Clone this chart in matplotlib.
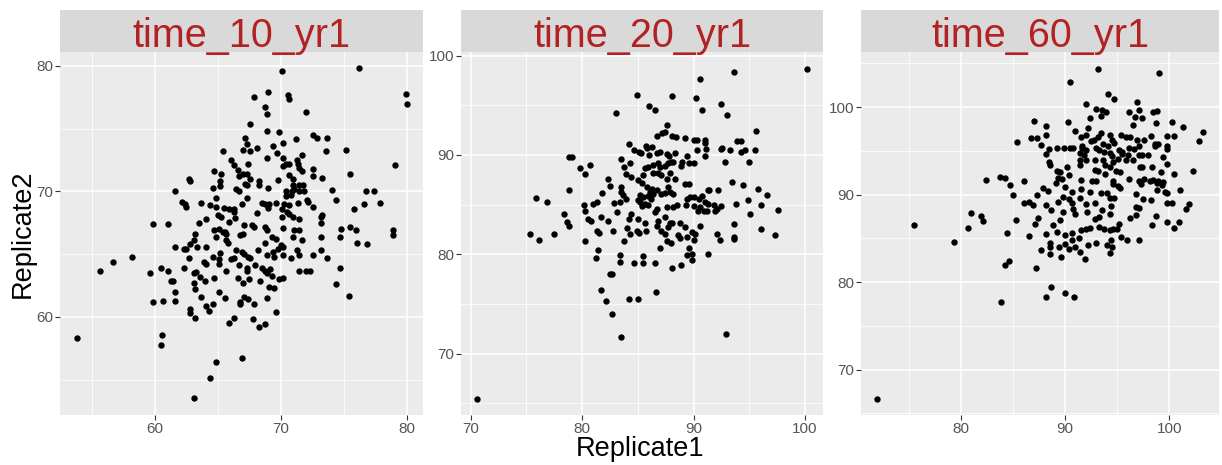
import matplotlib.pyplot as plt
from matplotlib.ticker import MultipleLocator

plt.rcParams['font.family'] = ['Liberation Sans', 'DejaVu Sans']

facets = ["time_10_yr1", "time_20_yr1", "time_60_yr1"]

# time_10_yr1
rep1_t10 = [70.1, 76.2, 79.95, 80.0, 69.0, 70.6, 70.7, 67.9, 68.8, 68.9,
            72.0, 67.6, 68.9, 69.9, 67.2, 71.2, 72.6, 72.9, 73.7, 70.2,
            67.3, 68.1, 69.4, 67.0, 67.6, 65.4, 69.7, 68.9, 73.6, 75.2,
            71.7, 70.2, 66.1, 71.3, 66.3, 67.4, 70.4, 70.7, 70.2, 71.4,
            79.1, 66.6, 64.7, 65.3, 67.0, 67.3, 71.7, 71.5, 72.6, 72.6,
            73.3, 75.5, 66.7, 62.7, 62.8, 65.2, 67.6, 68.3, 69.8, 70.7,
            71.0, 68.3, 67.2, 66.5, 67.3, 64.6, 65.2, 69.0, 71.0, 71.5,
            71.8, 71.1, 61.6, 66.7, 70.4, 70.9, 71.5, 71.9, 74.1, 76.8,
            77.4, 70.8, 70.4, 67.3, 64.9, 62.2, 62.4, 62.5, 63.7, 64.4,
            64.9, 66.9, 68.5, 68.8, 69.1, 69.6, 70.3, 70.7, 71.4, 72.1,
            72.2, 72.6, 74.4, 77.9, 76.6, 69.0, 70.1, 70.5, 70.7, 71.0,
            75.8, 65.5, 65.9, 66.3, 66.3, 68.1, 65.0, 65.3, 66.4, 64.1,
            70.1, 71.5, 73.2, 73.3, 59.9, 61.1, 63.5, 65.9, 67.1, 67.7,
            67.9, 68.8, 73.2, 75.5, 76.0, 74.8, 78.9, 78.9, 68.9, 70.2,
            71.1, 71.5, 64.7, 65.4, 65.1, 65.7, 65.6, 63.2, 66.8, 67.0,
            69.3, 71.0, 73.2, 74.7, 63.1, 64.9, 65.7, 65.8, 68.8, 69.6,
            70.0, 70.2, 71.7, 76.9, 76.1, 61.6, 62.8, 63.4, 64.1, 62.3,
            62.5, 66.5, 66.9, 67.1, 68.2, 69.4, 69.8, 71.3, 73.2, 65.2,
            67.4, 67.6, 68.9, 69.5, 70.2, 70.8, 71.5, 72.6, 73.7, 58.2,
            62.7, 64.6, 65.1, 66.1, 66.3, 56.7, 63.9, 64.1, 65.1, 66.7,
            68.0, 68.5, 67.3, 67.3, 55.7, 62.3, 60.5, 61.1, 59.6, 63.1,
            63.3, 63.6, 64.0, 64.7, 65.7, 68.8, 68.9, 69.2, 69.3, 71.5,
            72.0, 72.3, 74.7, 66.6, 67.5, 69.9, 70.2, 67.0, 68.4, 61.3,
            61.5, 63.1, 69.1, 69.5, 74.4, 63.2, 61.6, 65.1, 63.7, 65.6,
            67.1, 68.9, 75.4, 67.4, 61.6, 60.7, 59.9, 66.8, 66.8, 67.9,
            64.1, 64.6, 64.3, 62.8, 62.8, 69.6, 63.2, 66.3, 65.9, 67.8,
            68.8, 68.3, 53.8, 60.6, 60.5, 66.9, 64.9, 64.4, 63.1]
rep2_t10 = [79.6, 79.8, 77.8, 77.0, 77.9, 77.7, 77.4, 77.5, 76.7, 76.2,
            76.3, 75.4, 74.8, 74.7, 74.3, 74.2, 74.5, 74.3, 74.3, 73.9,
            73.8, 73.5, 73.6, 73.3, 73.2, 73.2, 73.1, 72.7, 73.2, 73.3,
            72.9, 72.7, 72.5, 72.5, 72.1, 72.2, 72.2, 72.2, 72.0, 72.2,
            72.1, 71.7, 71.6, 71.4, 71.4, 71.4, 71.6, 71.9, 71.8, 71.2,
            71.1, 71.4, 71.2, 71.0, 70.8, 70.8, 71.0, 70.8, 70.9, 71.3,
            71.0, 70.5, 70.6, 70.2, 70.5, 70.3, 70.4, 70.3, 70.5, 70.5,
            70.5, 70.2, 70.0, 70.0, 70.0, 70.0, 70.0, 70.0, 70.1, 70.0,
            70.0, 69.7, 69.6, 69.5, 69.5, 69.2, 69.0, 68.8, 69.1, 68.9,
            68.8, 69.0, 69.1, 69.0, 69.0, 69.1, 69.0, 68.9, 69.1, 69.3,
            69.2, 68.8, 69.3, 69.1, 69.0, 68.7, 68.6, 68.4, 68.2, 68.0,
            68.6, 68.7, 68.6, 68.6, 68.4, 68.3, 68.1, 68.0, 67.9, 67.8,
            68.0, 67.8, 68.0, 68.1, 67.4, 67.4, 67.5, 67.6, 67.3, 67.3,
            67.2, 67.2, 67.5, 67.2, 66.9, 67.0, 66.9, 66.5, 66.9, 67.1,
            66.9, 66.9, 66.9, 66.8, 67.0, 66.6, 66.8, 66.6, 66.5, 66.6,
            66.4, 66.4, 66.4, 66.4, 66.1, 66.4, 66.1, 65.9, 65.9, 66.2,
            65.7, 65.6, 66.1, 65.8, 65.9, 65.6, 65.8, 65.6, 65.6, 65.4,
            65.4, 65.3, 65.2, 65.0, 65.3, 65.2, 65.4, 65.3, 65.3, 65.1,
            64.8, 64.7, 64.9, 64.8, 64.9, 64.7, 64.9, 64.9, 64.7, 64.8,
            64.7, 64.8, 64.6, 64.6, 64.7, 64.4, 64.4, 64.2, 64.2, 64.1,
            64.1, 63.9, 63.9, 63.7, 63.7, 63.9, 63.9, 63.7, 63.5, 63.5,
            63.6, 63.2, 62.9, 63.1, 63.7, 63.7, 63.5, 63.8, 63.3, 63.7,
            63.7, 63.7, 63.9, 63.1, 63.0, 63.0, 63.1, 62.7, 62.9, 62.9,
            62.9, 62.7, 62.4, 62.3, 62.6, 62.2, 62.0, 62.0, 61.6, 61.5,
            61.6, 61.5, 61.7, 61.4, 61.3, 61.3, 61.2, 61.2, 61.0, 61.0,
            60.9, 61.0, 60.5, 60.6, 60.3, 60.4, 59.9, 59.9, 59.5, 59.8,
            59.4, 59.2, 58.3, 58.6, 57.8, 56.7, 56.4, 55.1, 53.5]

# time_20_yr1
rep1_t20 = [100.15, 93.65, 90.6, 84.9, 88.1, 90.25, 92.45, 86.0, 86.5, 90.75,
            93.0, 83.0, 87.6, 95.65, 86.7, 87.2, 87.4, 88.1, 88.4, 89.2,
            90.0, 90.3, 91.0, 91.0, 93.95, 94.3, 84.2, 85.7, 85.8, 86.3,
            84.7, 85.1, 85.3, 87.0, 87.6, 88.3, 87.8, 86.0, 86.7, 89.4,
            90.3, 91.1, 92.5, 92.6, 93.3, 94.6, 94.3, 95.5, 91.0, 78.8,
            79.1, 83.5, 84.3, 83.8, 88.0, 88.2, 89.0, 89.6, 90.0, 88.9,
            92.8, 95.0, 79.8, 80.7, 85.6, 86.4, 86.8, 87.0, 87.4, 87.7,
            85.9, 86.4, 86.8, 87.1, 87.9, 80.3, 83.9, 84.4, 85.5, 82.3,
            82.5, 85.0, 85.4, 87.6, 88.3, 89.2, 89.6, 93.5, 94.4, 78.8,
            81.8, 83.5, 83.5, 83.7, 85.8, 86.3, 86.1, 86.4, 86.7, 87.1,
            87.7, 87.9, 88.2, 87.4, 91.3, 91.4, 92.2, 95.8, 96.6, 85.2,
            85.5, 85.9, 86.2, 75.9, 76.8, 83.9, 83.4, 82.9, 81.0, 81.3,
            80.2, 85.0, 85.2, 85.6, 85.4, 85.9, 89.4, 89.7, 90.0, 90.5,
            90.8, 91.0, 91.3, 91.8, 93.8, 94.9, 96.1, 89.3, 90.0, 90.4,
            90.6, 90.9, 91.2, 91.9, 92.1, 92.5, 97.6, 95.1, 78.4, 80.3,
            83.1, 84.4, 86.7, 86.5, 87.6, 88.2, 88.5, 80.5, 80.8, 81.7,
            78.6, 78.8, 82.3, 84.2, 85.0, 85.6, 86.8, 87.4, 87.9, 93.6,
            90.6, 86.7, 87.1, 87.7, 88.1, 88.8, 89.2, 75.3, 77.5, 76.1,
            81.3, 81.5, 82.8, 84.0, 84.3, 84.9, 85.1, 85.7, 87.4, 88.6,
            88.8, 89.4, 89.9, 90.1, 92.1, 92.4, 93.6, 93.6, 96.1, 97.3,
            80.3, 83.8, 87.6, 88.0, 90.0, 87.0, 89.6, 81.4, 91.3, 83.4,
            81.2, 85.5, 89.4, 89.9, 83.4, 84.7, 85.5, 86.5, 88.9, 89.9,
            88.1, 82.5, 82.7, 81.7, 86.6, 82.1, 84.2, 85.0, 82.7, 92.9,
            83.5, 70.6]
rep2_t20 = [98.7, 98.3, 97.6, 96.0, 95.9, 95.7, 95.1, 94.9, 94.5, 94.5,
            94.0, 94.2, 93.0, 92.4, 91.9, 92.2, 92.3, 91.9, 91.8, 91.7,
            91.5, 91.5, 91.5, 91.2, 91.4, 91.4, 91.1, 90.9, 90.7, 90.8,
            90.5, 90.3, 90.2, 90.3, 90.1, 90.2, 89.9, 90.0, 90.2, 89.9,
            90.5, 90.6, 90.6, 90.7, 90.5, 90.5, 90.3, 90.5, 89.9, 89.8,
            89.8, 89.6, 89.2, 88.8, 89.3, 89.3, 89.3, 89.2, 89.2, 88.9,
            89.3, 89.3, 88.7, 89.0, 88.7, 89.0, 89.2, 88.8, 88.9, 89.2,
            88.8, 88.2, 88.2, 88.0, 88.2, 88.1, 88.1, 87.8, 88.0, 87.6,
            86.9, 87.5, 87.2, 87.6, 87.6, 87.1, 87.1, 87.3, 87.0, 86.5,
            86.2, 86.8, 86.3, 86.0, 86.8, 86.6, 86.3, 86.1, 86.5, 86.1,
            86.8, 86.3, 86.1, 86.2, 86.5, 86.5, 86.5, 86.6, 86.0, 86.0,
            85.8, 85.9, 85.6, 85.7, 85.3, 85.6, 85.3, 85.2, 85.1, 85.3,
            85.0, 85.5, 85.3, 85.1, 84.9, 85.0, 85.6, 85.8, 85.8, 85.6,
            85.9, 85.3, 85.1, 85.0, 85.1, 85.5, 85.0, 85.0, 84.9, 84.4,
            84.8, 84.4, 84.4, 84.4, 84.6, 84.9, 84.5, 84.1, 84.1, 84.4,
            84.3, 84.1, 84.6, 84.3, 84.8, 84.8, 85.0, 83.6, 83.4, 83.8,
            83.3, 82.9, 83.4, 83.6, 83.6, 83.2, 83.4, 83.8, 83.2, 83.1,
            82.9, 82.9, 82.4, 82.8, 83.2, 83.2, 82.8, 82.0, 82.0, 81.4,
            82.4, 82.2, 82.4, 82.7, 82.1, 82.4, 82.2, 82.4, 82.1, 81.9,
            81.6, 81.7, 82.3, 82.1, 82.1, 81.4, 81.7, 81.5, 82.6, 81.9,
            81.3, 81.3, 81.3, 81.1, 81.4, 80.6, 80.6, 80.4, 80.0, 79.9,
            79.6, 79.8, 79.9, 80.0, 79.2, 79.1, 79.1, 79.1, 78.9, 79.4,
            78.6, 78.0, 78.0, 76.4, 76.2, 75.3, 75.5, 75.5, 74.0, 72.0,
            71.7, 65.5]

# time_60_yr1
rep1_t60 = [93.2, 99.0, 90.5, 94.1, 94.7, 96.9, 92.0, 93.0, 93.5, 93.9,
            97.1, 96.1, 98.4, 98.8, 92.4, 93.4, 96.7, 97.4, 87.0, 90.3,
            100.3, 98.7, 88.2, 96.5, 101.3, 91.0, 92.2, 103.2, 102.8, 88.2,
            92.0, 93.4, 93.2, 94.3, 95.4, 95.8, 96.2, 98.2, 99.8, 100.4,
            86.7, 87.3, 85.4, 87.7, 91.5, 91.6, 92.5, 92.8, 93.6, 94.1,
            94.5, 94.7, 96.9, 97.1, 97.6, 98.6, 98.9, 99.8, 89.2, 89.9,
            90.5, 90.8, 88.5, 91.6, 92.0, 93.0, 93.3, 93.7, 95.2, 95.5,
            96.1, 96.6, 98.6, 99.8, 88.2, 91.4, 91.8, 94.3, 94.5, 95.5,
            96.0, 97.1, 97.4, 98.0, 99.4, 91.4, 92.0, 92.9, 93.6, 94.6,
            95.1, 95.8, 96.5, 88.5, 88.6, 90.2, 91.4, 93.8, 94.3, 97.4,
            97.2, 98.3, 99.8, 89.2, 89.5, 92.9, 93.2, 93.8, 94.9, 95.3,
            102.3, 99.2, 82.4, 83.8, 84.2, 86.1, 90.4, 89.3, 89.7, 91.5,
            92.6, 93.0, 94.6, 96.1, 97.1, 97.6, 98.4, 98.9, 99.4, 100.4,
            89.1, 84.7, 94.6, 95.1, 95.3, 97.3, 98.1, 98.8, 99.3, 90.0,
            87.9, 88.4, 91.5, 98.8, 101.0, 90.7, 92.4, 93.4, 94.0, 96.8,
            99.6, 99.8, 85.0, 87.3, 89.8, 90.4, 91.4, 94.3, 94.7, 97.5,
            98.2, 86.1, 86.5, 86.9, 88.2, 89.3, 90.7, 92.0, 92.9, 94.4,
            96.8, 97.1, 99.8, 100.3, 101.9, 101.6, 81.0, 81.9, 82.1, 88.7,
            89.8, 90.8, 91.0, 92.1, 93.5, 94.3, 87.4, 92.9, 93.3, 96.2,
            96.8, 98.7, 85.3, 89.5, 87.1, 88.8, 99.8, 100.9, 98.3, 95.2,
            75.5, 80.7, 92.4, 93.3, 93.7, 94.3, 94.6, 95.0, 91.5, 92.0,
            100.4, 84.4, 86.5, 88.2, 89.2, 90.0, 90.7, 95.4, 95.9, 97.1,
            79.4, 88.6, 90.7, 91.3, 93.0, 94.4, 90.0, 88.6, 89.4, 90.4,
            91.0, 92.2, 94.0, 94.5, 87.7, 88.6, 91.4, 94.3, 89.6, 91.9,
            84.6, 84.2, 87.2, 88.7, 90.0, 88.2, 90.9, 83.9, 72.0]
rep2_t60 = [104.4, 103.9, 102.9, 101.5, 100.9, 100.6, 100.4, 99.8, 99.7, 99.4,
            99.7, 99.4, 99.4, 99.5, 98.8, 99.0, 98.9, 98.8, 98.4, 98.3,
            98.3, 98.2, 97.8, 97.9, 97.7, 97.3, 97.6, 97.1, 96.1, 96.8,
            96.8, 97.0, 96.6, 96.8, 96.8, 96.6, 96.6, 96.7, 96.7, 96.7,
            96.5, 96.5, 96.0, 95.7, 96.6, 95.6, 96.1, 96.2, 95.8, 95.5,
            96.2, 95.9, 96.2, 95.6, 96.2, 95.8, 95.8, 95.5, 95.3, 95.3,
            95.3, 95.3, 95.2, 95.3, 95.1, 95.3, 95.1, 94.9, 95.1, 94.9,
            95.3, 95.2, 95.5, 95.2, 94.6, 94.7, 94.5, 94.7, 94.4, 94.6,
            94.5, 94.5, 94.5, 94.5, 94.3, 94.0, 94.0, 94.0, 93.9, 93.7,
            94.1, 94.0, 93.9, 93.7, 93.4, 93.2, 93.4, 93.4, 93.2, 93.2,
            93.1, 93.2, 93.5, 92.7, 92.6, 92.8, 92.7, 92.3, 92.7, 92.6,
            92.7, 92.6, 91.7, 92.0, 91.9, 91.5, 92.2, 91.9, 91.8, 91.7,
            91.6, 91.5, 91.6, 91.8, 91.5, 91.8, 91.7, 91.6, 91.4, 92.3,
            91.3, 91.1, 91.2, 91.0, 90.8, 91.2, 91.5, 91.3, 91.1, 90.9,
            90.7, 90.4, 90.6, 90.5, 90.5, 90.3, 90.3, 90.2, 90.2, 90.1,
            90.3, 90.2, 89.9, 89.9, 89.7, 89.5, 89.6, 89.6, 89.6, 89.5,
            89.4, 89.0, 89.2, 88.8, 88.8, 89.2, 89.0, 88.9, 89.0, 88.7,
            88.6, 88.5, 89.0, 89.0, 88.9, 88.3, 87.9, 87.6, 87.0, 88.2,
            88.0, 88.3, 87.8, 88.0, 88.2, 87.8, 87.3, 87.2, 87.4, 87.3,
            87.7, 87.6, 87.1, 87.1, 86.6, 86.5, 86.9, 86.9, 86.5, 86.6,
            86.5, 86.2, 86.2, 86.3, 86.1, 86.0, 86.1, 86.1, 85.9, 86.1,
            86.2, 85.6, 85.3, 85.5, 85.7, 85.4, 85.6, 85.2, 84.8, 84.8,
            84.6, 84.5, 84.8, 85.0, 84.5, 84.8, 84.4, 84.0, 84.0, 83.8,
            84.0, 84.2, 84.2, 84.0, 83.7, 83.2, 83.4, 83.3, 82.9, 82.6,
            82.4, 82.0, 81.6, 79.4, 78.8, 78.3, 78.3, 77.7, 66.7]

xs = [rep1_t10, rep1_t20, rep1_t60]
ys = [rep2_t10, rep2_t20, rep2_t60]

# layout in pixels of the 1222x465 picture
W, H = 1222.0, 465.0
panel_left = [60, 461, 861]
panel_width = [363, 362, 358]
panel_top, panel_bottom, strip_top = 52, 415, 10

fig = plt.figure(figsize=(12.22, 4.65), dpi=100)

for i in range(3):
    ax = fig.add_axes([panel_left[i] / W, 1 - panel_bottom / H,
                       panel_width[i] / W, (panel_bottom - panel_top) / H])
    ax.set_facecolor('#EBEBEB')
    ax.scatter(xs[i], ys[i], s=21, c='black', linewidths=0, zorder=3)
    ax.margins(0.05)
    for side in ax.spines.values():
        side.set_visible(False)
    ax.xaxis.set_major_locator(MultipleLocator(10))
    ax.yaxis.set_major_locator(MultipleLocator(10))
    ax.xaxis.set_minor_locator(MultipleLocator(5))
    ax.yaxis.set_minor_locator(MultipleLocator(5))
    ax.grid(which='major', color='white', linewidth=1.1)
    ax.grid(which='minor', color='white', linewidth=0.55)
    ax.set_axisbelow(True)
    ax.tick_params(which='major', length=3.5, width=0.8, color='#333333',
                   labelsize=11, labelcolor='#555555', pad=1.5)
    ax.tick_params(which='minor', length=0)

    # facet strip
    sax = fig.add_axes([panel_left[i] / W, 1 - panel_top / H,
                        panel_width[i] / W, (panel_top - strip_top) / H])
    sax.set_facecolor('#D9D9D9')
    sax.set_xticks([])
    sax.set_yticks([])
    for side in sax.spines.values():
        side.set_visible(False)
    sax.text(0.5, 0.13, facets[i], ha='center', va='baseline',
             fontsize=28.5, color='#B22222', transform=sax.transAxes)

fig.text(23 / W, 1 - 233.5 / H, 'Replicate2', rotation=90,
         ha='center', va='center', fontsize=19.5)
fig.text(640 / W, 1 - 456 / H, 'Replicate1',
         ha='center', va='baseline', fontsize=19.5)

fig.savefig('out.png', dpi=100)
